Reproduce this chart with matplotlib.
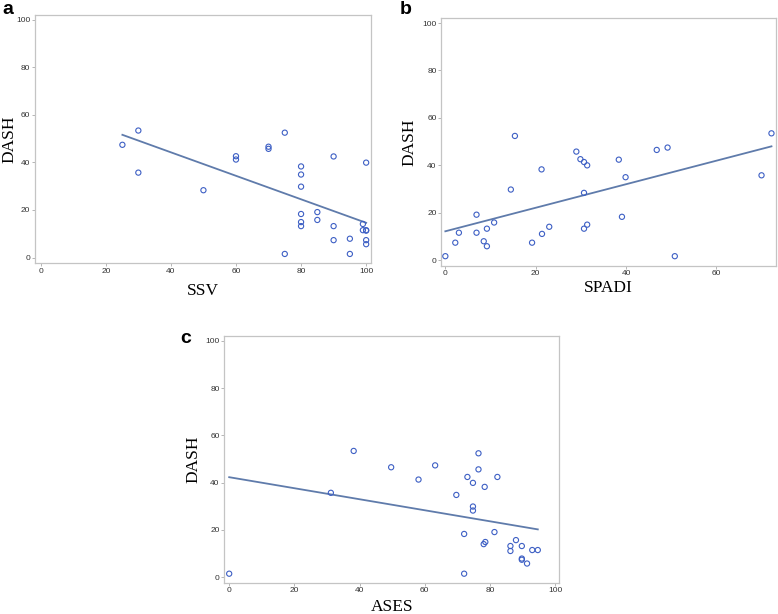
import numpy as np
import matplotlib
matplotlib.use('Agg')
from matplotlib import pyplot as plt

# panel a: SSV vs DASH
ssv = [25.1, 30, 30, 50, 60, 60, 70, 70, 75, 75, 80, 80, 80, 80, 80, 80, 85, 85,
       90, 90, 90, 95, 95, 99, 99, 100, 100, 100, 100, 100]
dash_a = [47.4, 53.4, 35.7, 28.3, 42.6, 41.2, 46.6, 45.7, 52.5, 1.5, 38.3, 34.9, 29.8, 18.3,
          14.9, 13.2, 19.1, 15.8, 42.5, 13.2, 7.3, 7.9, 1.5, 14.1, 11.5, 39.9, 11.5, 11.3, 7.3, 5.6]
fit_a = (64.0, -0.494)   # intercept, slope

# panel b: SPADI vs DASH
spadi = [0, 2.2, 3.0, 6.9, 6.9, 8.5, 9.2, 9.2, 10.8, 14.5, 15.4, 19.2, 21.3, 21.4, 23.0,
         29.0, 29.9, 30.7, 31.4, 30.7, 30.7, 31.4, 38.4, 39.1, 39.9, 46.8, 49.2, 50.8, 70.0, 72.2]
dash_b = [1.7, 7.4, 11.6, 19.2, 11.6, 8.0, 13.3, 5.9, 15.9, 29.8, 52.4, 7.4, 38.3, 11.1, 14.1,
          45.8, 42.6, 41.4, 40.0, 28.4, 13.3, 15.0, 42.4, 18.3, 35.0, 46.5, 47.5, 1.7, 35.8, 53.5]
fit_b = (12.2, 0.496)

# panel c: ASES vs DASH
ases = [0, 31.2, 38.2, 49.7, 58.1, 63.2, 69.7, 72.1, 72.1, 73.1, 74.8, 74.8, 74.8, 76.5, 76.5,
        78.4, 78.1, 78.6, 81.4, 82.3, 86.3, 86.3, 88.0, 89.8, 89.8, 89.8, 91.4, 93.0, 94.7]
dash_c = [1.5, 35.7, 53.4, 46.5, 41.3, 47.3, 34.8, 18.3, 1.5, 42.4, 39.9, 29.9, 28.2, 52.4, 45.6,
          38.2, 14.0, 14.9, 19.1, 42.4, 13.2, 11.1, 15.7, 13.2, 7.9, 7.4, 5.8, 11.5, 11.5]
fit_c = (42.3, -0.233)

# tag, x, y, fit, xlabel, axes rect, xlim, xticks, xlabel y, ylabel x (axes coords)
panels = [
    ('a', ssv, dash_a, fit_a, 'SSV', [0.045, 0.5717, 0.4319, 0.4039], (-1.75, 101.5),
     [0, 20, 40, 60, 80, 100], -0.113, -0.077),
    ('b', spadi, dash_b, fit_b, 'SPADI', [0.5672, 0.5673, 0.4302, 0.4029], (-0.9, 73.2),
     [0, 20, 40, 60], -0.09, -0.0965),
    ('c', ases, dash_c, fit_c, 'ASES', [0.2883, 0.0510, 0.4306, 0.4018], (-1.5, 101.3),
     [0, 20, 40, 60, 80, 100], -0.097, -0.092),
]
letter_pos = {'a': (0.003, 0.998), 'b': (0.514, 0.998), 'c': (0.232, 0.462)}

fig = plt.figure(figsize=(7.78, 6.14), dpi=100)
for tag, xs, ys, fit, xlab, rect, xlim, xt, xly, ylx in panels:
    ax = fig.add_axes(rect)
    ax.scatter(xs, ys, s=14, facecolors='none', edgecolors='#3d5fc4', linewidths=0.8, zorder=3)
    xl = np.array([min(xs), max(xs)])
    ax.plot(xl, fit[0] + fit[1] * xl, color='#5f7bab', lw=1.3, zorder=2)
    ax.set_xlim(*xlim)
    ax.set_ylim(-2.3, 102)
    ax.set_xticks(xt)
    ax.set_yticks([0, 20, 40, 60, 80, 100])
    ax.tick_params(labelsize=6, labelcolor='#333333', color='#aaaaaa', length=2.2, width=0.6, pad=1.2)
    for lbl in ax.get_xticklabels() + ax.get_yticklabels():
        lbl.set_family('Liberation Sans')
    for s in ax.spines.values():
        s.set_color('#c4c4c4')
        s.set_linewidth(0.9)
    ax.set_xlabel(xlab, family='Liberation Serif', fontsize=12.5, va='center')
    ax.set_ylabel('DASH', family='Liberation Serif', fontsize=12.5, va='center')
    ax.xaxis.set_label_coords(0.5, xly)
    ax.yaxis.set_label_coords(ylx, 0.5)
    fig.text(letter_pos[tag][0], letter_pos[tag][1], tag, fontsize=14, fontweight='bold',
             family='Liberation Sans', va='top', ha='left')

plt.savefig('out.png', dpi=100)
